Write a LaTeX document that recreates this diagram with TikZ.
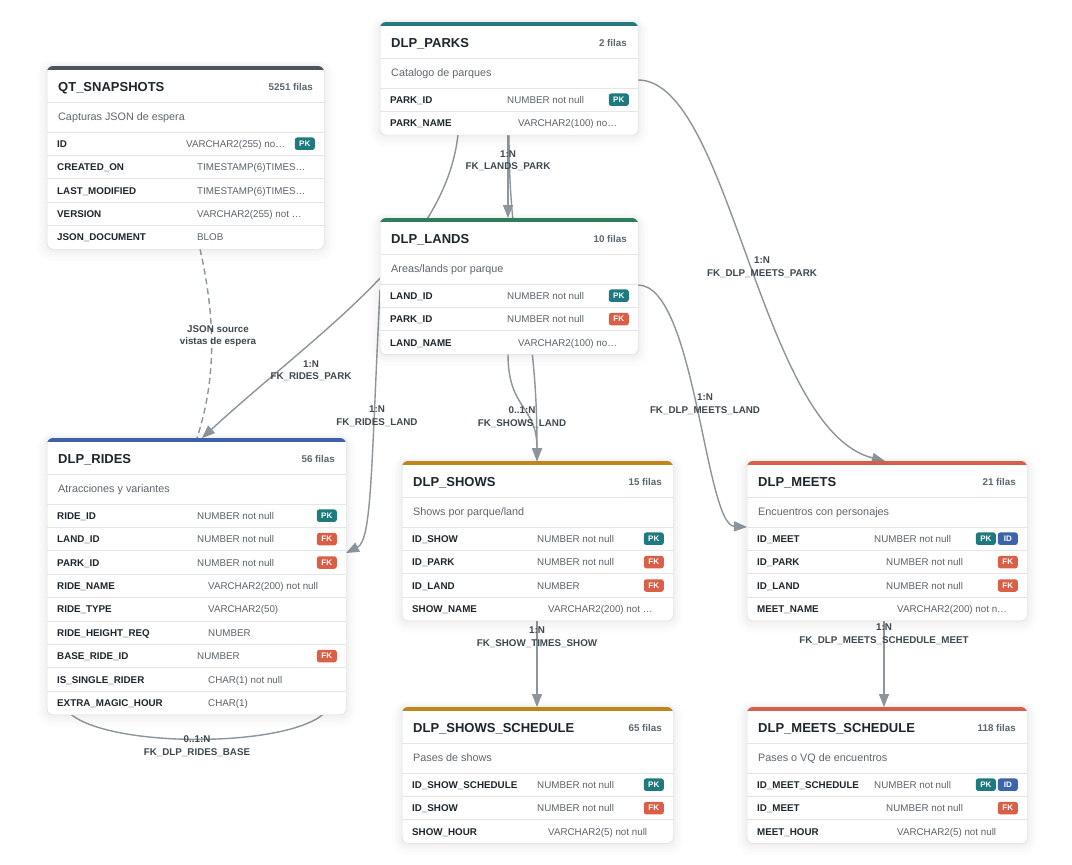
\documentclass[tikz,border=0pt]{standalone}
\usepackage{fontspec}
\setmainfont{Liberation Sans}
\usetikzlibrary{arrows.meta,calc}
\definecolor{pkc}{HTML}{1F7A80}
\definecolor{fkc}{HTML}{D95F47}
\definecolor{idc}{HTML}{3C64AA}
\definecolor{qtc}{HTML}{4A5560}
\definecolor{parkc}{HTML}{26797D}
\definecolor{landc}{HTML}{2E7F57}
\definecolor{ridec}{HTML}{3D62AA}
\definecolor{showc}{HTML}{BF8719}
\definecolor{meetc}{HTML}{D65E4A}
\definecolor{edgec}{HTML}{8C959B}
\definecolor{darkc}{HTML}{1D262C}
\definecolor{typec}{HTML}{5A636A}
\definecolor{labc}{HTML}{3E484F}
\definecolor{bordc}{HTML}{D9DCDF}
\definecolor{sepc}{HTML}{E4E6E8}
\definecolor{countc}{HTML}{5C676F}
\definecolor{descc}{HTML}{5E666C}

\tikzset{
  colname/.style={font=\fontsize{9.8}{11}\selectfont\bfseries, text=darkc, inner sep=0, text height=7pt, text depth=0pt, anchor=west},
  coltype/.style={font=\fontsize{9.8}{11}\selectfont, text=typec, inner sep=0, text height=7pt, text depth=0pt, anchor=west},
  ttitle/.style={font=\fontsize{13}{15}\selectfont\bfseries, text=darkc, inner sep=0, text height=9.3pt, text depth=0pt, anchor=west},
  tcount/.style={font=\fontsize{9.8}{11}\selectfont\bfseries, text=countc, inner sep=0, text height=7pt, text depth=0pt, anchor=east},
  tdesc/.style={font=\fontsize{10.8}{12}\selectfont, text=descc, inner sep=0, text height=7.8pt, text depth=0pt, anchor=west},
  badge/.style={font=\fontsize{8}{8}\selectfont\bfseries, text=white, inner sep=0, minimum width=20pt, minimum height=12.5pt, rounded corners=2.5pt, anchor=east},
  fkline/.style={draw=edgec, line width=1.4pt, -{Triangle[length=13pt,width=10pt]}},
  plainline/.style={draw=edgec, line width=1.4pt},
  dashline/.style={draw=edgec, line width=1.4pt, dash pattern=on 6pt off 4pt},
  elabel/.style={font=\fontsize{9.8}{12.5}\selectfont\bfseries, text=labc, align=center, inner sep=0},
}

\newcommand{\dbtable}[9]{%
  \pgfmathsetmacro{\tH}{66+#5*23.4}%
  \xdef\tx{#2}\xdef\ty{#3}\xdef\tw{#4}\xdef\tname{#1}%
  \foreach \s in {10,7,5,3,1.5}{
    \fill[black,opacity=0.012,rounded corners=6+\s] (#2-\s,#3-\s*0.5) rectangle (#2+#4+\s,#3+\tH+\s*1.2);
  }
  \node[draw=bordc, fill=white, rounded corners=6pt, minimum width=#4 pt, minimum height=\tH pt, inner sep=0, anchor=north west] (#1) at (#2,#3) {};
  \begin{scope}
    \clip[rounded corners=6pt] (#2,#3) rectangle (#2+#4,#3+\tH);
    \fill[#6] (#2-1,#3-1) rectangle (#2+#4+1,#3+3.5);
  \end{scope}
  \draw[sepc, line width=0.8pt] (#2,#3+36) -- ++(#4,0);
  \draw[sepc, line width=0.8pt] (#2,#3+66) -- ++(#4,0);
  \node[ttitle] (#1-title) at (#2+11,#3+21) {#7};
  \node[tcount] (#1-count) at (#2+#4-11,#3+21) {#8};
  \node[tdesc] (#1-desc) at (#2+11,#3+51) {#9};
}

\newcommand{\dbrows}[2]{%
  \foreach [count=\i] \cn/\ct/\cs/\cb in {#2} {
    \pgfmathsetmacro{\rowy}{\ty+66+(\i-0.5)*23.4}
    \pgfmathsetmacro{\rowl}{\ty+66+(\i-1)*23.4}
    \draw[sepc, line width=0.8pt] (\tx,\rowl) -- ++(\tw,0);
    \node[colname] (\tname-c\i) at (\tx+10,\rowy) {\cn};
    \node[coltype] (\tname-t\i) at (\tx+#1-\cs,\rowy) {\ct};
    \cb
  }%
}
\newcommand{\bPK}{\node[badge,fill=pkc] (\tname-b\i) at (\tx+\tw-9,\rowy) {PK};}
\newcommand{\bFK}{\node[badge,fill=fkc] (\tname-b\i) at (\tx+\tw-9,\rowy) {FK};}
\newcommand{\bPKID}{\node[badge,fill=idc] (\tname-b\i) at (\tx+\tw-9,\rowy) {ID};
  \node[badge,fill=pkc] (\tname-bb\i) at (\tx+\tw-31,\rowy) {PK};}
\newcommand{\bnone}{}

\begin{document}
\begin{tikzpicture}[x=1pt,y=-1pt]
\useasboundingbox (0,0) rectangle (1072,865);
\fill[white] (0,0) rectangle (1072,865);

% anchor helpers for tables (frames drawn later, so define coordinates now)
\coordinate (parksSW) at (380,134.8);
\coordinate (parksNE) at (638,22);
\coordinate (landsNW) at (380,218);
\coordinate (landsSW) at (380,354.2);
\coordinate (landsNE) at (638,218);
\coordinate (ridesNW) at (47,438);
\coordinate (ridesNE) at (346,438);
\coordinate (ridesSW) at (47,714.6);
\coordinate (qtSW) at (47,249);
\coordinate (showsNW) at (402,461);
\coordinate (showsSW) at (402,620.6);
\coordinate (meetsNW) at (747,461);
\coordinate (meetsSW) at (747,620.6);
\coordinate (showssNW) at (402,707);
\coordinate (meetssNW) at (747,707);

% connectors
\draw[fkline] ($(parksSW)+(128,0)$) -- ($(landsNW)+(128,0)$);
\draw[fkline] ($(parksSW)+(129,0)$) .. controls (509,280) and (537,300) .. ($(showsNW)+(135,0)$);
\draw[fkline] ($(landsSW)+(128,0)$) .. controls (508,410) and (537,405) .. ($(showsNW)+(135,0)$);
\draw[fkline] ($(parksSW)+(78,0)$) .. controls (445,250) and (320,330) .. ($(ridesNW)+(155,0)$);
\draw[fkline] ($(landsNW)+(0,72)$) .. controls (371,470) and (372,540) .. ($(ridesNE)+(0,115)$);
\draw[dashline] ($(qtSW)+(153,0)$) .. controls (216,320) and (216,380) .. ($(ridesNW)+(150,0)$);
\draw[fkline] ($(landsNE)+(0,67)$) .. controls (695,285) and (705,525) .. ($(meetsNW)+(0,66)$);
\draw[fkline] ($(parksNE)+(0,58)$) .. controls (730,80) and (760,430) .. ($(meetsNW)+(138,0)$);
\draw[fkline] ($(showsSW)+(135,0)$) -- ($(showssNW)+(135,0)$);
\draw[fkline] ($(meetsSW)+(137,0)$) -- ($(meetssNW)+(137,0)$);
\draw[plainline] ($(ridesSW)+(23,-1)$) .. controls (110,748) and (285,748) .. ($(ridesSW)+(277,-1)$);

% connector labels
\node[elabel] (l1) at (508,160.5) {1:N\\FK\_LANDS\_PARK};
\node[elabel] (l2) at (311,370.5) {1:N\\FK\_RIDES\_PARK};
\node[elabel] (l3) at (377,416) {1:N\\FK\_RIDES\_LAND};
\node[elabel] (l4) at (218,336) {JSON source\\vistas de espera};
\node[elabel] (l5) at (522,417) {0..1:N\\FK\_SHOWS\_LAND};
\node[elabel] (l6) at (705,404) {1:N\\FK\_DLP\_MEETS\_LAND};
\node[elabel] (l7) at (762,267) {1:N\\FK\_DLP\_MEETS\_PARK};
\node[elabel] (l8) at (537,637) {1:N\\FK\_SHOW\_TIMES\_SHOW};
\node[elabel] (l9) at (884,634) {1:N\\FK\_DLP\_MEETS\_SCHEDULE\_MEET};
\node[elabel] (l10) at (197,746) {0..1:N\\FK\_DLP\_RIDES\_BASE};

% tables
\dbtable{qt}{47}{66}{277}{5}{qtc}{QT\_SNAPSHOTS}{5251 filas}{Capturas JSON de espera}
\dbrows{150}{{ID}/{VARCHAR2(255) no…}/11/\bPK,
 {CREATED\_ON}/{TIMESTAMP(6)TIMES…}/0/\bnone,
 {LAST\_MODIFIED}/{TIMESTAMP(6)TIMES…}/0/\bnone,
 {VERSION}/{VARCHAR2(255) not …}/0/\bnone,
 {JSON\_DOCUMENT}/{BLOB}/0/\bnone}

\dbtable{parks}{380}{22}{258}{2}{parkc}{DLP\_PARKS}{2 filas}{Catalogo de parques}
\dbrows{138}{{PARK\_ID}/{NUMBER not null}/11/\bPK,
 {PARK\_NAME}/{VARCHAR2(100) no…}/0/\bnone}

\dbtable{lands}{380}{218}{258}{3}{landc}{DLP\_LANDS}{10 filas}{Areas/lands por parque}
\dbrows{138}{{LAND\_ID}/{NUMBER not null}/11/\bPK,
 {PARK\_ID}/{NUMBER not null}/11/\bFK,
 {LAND\_NAME}/{VARCHAR2(100) no…}/0/\bnone}

\dbtable{rides}{47}{438}{299}{9}{ridec}{DLP\_RIDES}{56 filas}{Atracciones y variantes}
\dbrows{161}{{RIDE\_ID}/{NUMBER not null}/11/\bPK,
 {LAND\_ID}/{NUMBER not null}/11/\bFK,
 {PARK\_ID}/{NUMBER not null}/11/\bFK,
 {RIDE\_NAME}/{VARCHAR2(200) not null}/0/\bnone,
 {RIDE\_TYPE}/{VARCHAR2(50)}/0/\bnone,
 {RIDE\_HEIGHT\_REQ}/{NUMBER}/0/\bnone,
 {BASE\_RIDE\_ID}/{NUMBER}/11/\bFK,
 {IS\_SINGLE\_RIDER}/{CHAR(1) not null}/0/\bnone,
 {EXTRA\_MAGIC\_HOUR}/{CHAR(1)}/0/\bnone}

\dbtable{shows}{402}{461}{271}{4}{showc}{DLP\_SHOWS}{15 filas}{Shows por parque/land}
\dbrows{146}{{ID\_SHOW}/{NUMBER not null}/11/\bPK,
 {ID\_PARK}/{NUMBER not null}/11/\bFK,
 {ID\_LAND}/{NUMBER}/11/\bFK,
 {SHOW\_NAME}/{VARCHAR2(200) not …}/0/\bnone}

\dbtable{meets}{747}{461}{280}{4}{meetc}{DLP\_MEETS}{21 filas}{Encuentros con personajes}
\dbrows{150}{{ID\_MEET}/{NUMBER not null}/23/\bPKID,
 {ID\_PARK}/{NUMBER not null}/11/\bFK,
 {ID\_LAND}/{NUMBER not null}/11/\bFK,
 {MEET\_NAME}/{VARCHAR2(200) not n…}/0/\bnone}

\dbtable{showss}{402}{707}{271}{3}{showc}{DLP\_SHOWS\_SCHEDULE}{65 filas}{Pases de shows}
\dbrows{146}{{ID\_SHOW\_SCHEDULE}/{NUMBER not null}/11/\bPK,
 {ID\_SHOW}/{NUMBER not null}/11/\bFK,
 {SHOW\_HOUR}/{VARCHAR2(5) not null}/0/\bnone}

\dbtable{meetss}{747}{707}{280}{3}{meetc}{DLP\_MEETS\_SCHEDULE}{118 filas}{Pases o VQ de encuentros}
\dbrows{150}{{ID\_MEET\_SCHEDULE}/{NUMBER not null}/23/\bPKID,
 {ID\_MEET}/{NUMBER not null}/11/\bFK,
 {MEET\_HOUR}/{VARCHAR2(5) not null}/0/\bnone}

\end{tikzpicture}
\end{document}
